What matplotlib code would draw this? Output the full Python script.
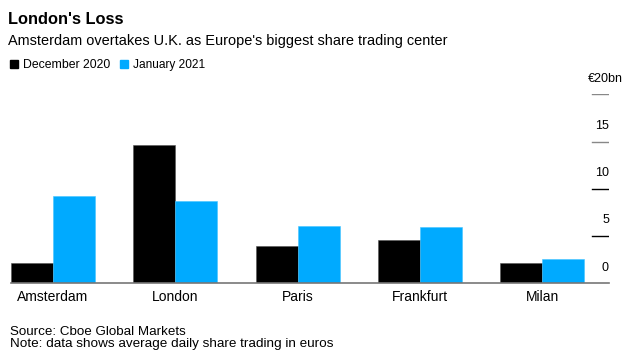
import numpy as np
import matplotlib.pyplot as plt
from matplotlib import transforms

# values in billions of euros
cities = ['Amsterdam', 'London', 'Paris', 'Frankfurt', 'Milan']
dec_2020 = [2.2, 14.6, 3.9, 4.6, 2.2]
jan_2021 = [9.2, 8.7, 6.1, 6.0, 2.6]
y_ticks = [0, 5, 10, 15, 20]
y_labels = ['0', '5', '10', '15', '€20bn']

black = '#000000'
blue = '#00aaff'

plt.rcParams['font.family'] = ['Liberation Sans', 'DejaVu Sans']

fig = plt.figure(figsize=(6.36, 3.58), dpi=100)
ax = fig.add_axes([11 / 636, 1 - 283.3 / 358, 598 / 636, 189 / 358])

x = np.arange(len(cities))
width = 0.3436
ax.bar(x - width / 2, dec_2020, width, color=black, edgecolor='#555555', linewidth=0.4)
ax.bar(x + width / 2, jan_2021, width, color=blue, edgecolor='#44c4ff', linewidth=0.4)

ax.set_xlim(-0.344, 4.548)
ax.set_ylim(0, 20)

for s in ['top', 'right', 'left']:
    ax.spines[s].set_visible(False)
ax.spines['bottom'].set_color('#777777')
ax.spines['bottom'].set_linewidth(1.2)
ax.set_yticks([])
ax.set_xticks(x)
ax.set_xticklabels(cities, fontsize=10)
ax.tick_params(axis='x', length=0, pad=5)

# short gridlines with labels on the right side
trans = transforms.blended_transform_factory(ax.transAxes, ax.transData)
for v, lab in zip(y_ticks, y_labels):
    if v > 0:
        col = '#888888' if v >= 15 else '#000000'
        ax.axhline(v, xmin=0.9715, xmax=1.0, color=col, linewidth=1)
    # the unit label keeps its digits in line with the others
    dx = 10 if lab.endswith('bn') else 0
    ax.annotate(lab, xy=(1.0, v), xycoords=trans, xytext=(dx, 7),
                textcoords='offset points', ha='right', va='bottom', fontsize=9)

# titles
fig.text(8 / 636, 1 - 24 / 358, "London's Loss", fontsize=11.8, fontweight='bold',
         va='baseline')
fig.text(8 / 636, 1 - 45 / 358,
         "Amsterdam overtakes U.K. as Europe's biggest share trading center",
         fontsize=10.45, va='baseline')

# legend
fig.patches.append(plt.Rectangle((10 / 636, 1 - 68 / 358), 8 / 636, 8 / 358,
                                 color=black, transform=fig.transFigure))
fig.text(23 / 636, 1 - 68 / 358, 'December 2020', fontsize=8.8, va='baseline')
fig.patches.append(plt.Rectangle((120 / 636, 1 - 68 / 358), 8 / 636, 8 / 358,
                                 color=blue, transform=fig.transFigure))
fig.text(133 / 636, 1 - 68 / 358, 'January 2021', fontsize=8.6, va='baseline')

# footer
fig.text(10 / 636, 1 - 335 / 358, 'Source: Cboe Global Markets', fontsize=9.6, va='baseline')
fig.text(10 / 636, 1 - 347 / 358, 'Note: data shows average daily share trading in euros',
         fontsize=9.7, va='baseline')

fig.savefig('out.png', dpi=100)
